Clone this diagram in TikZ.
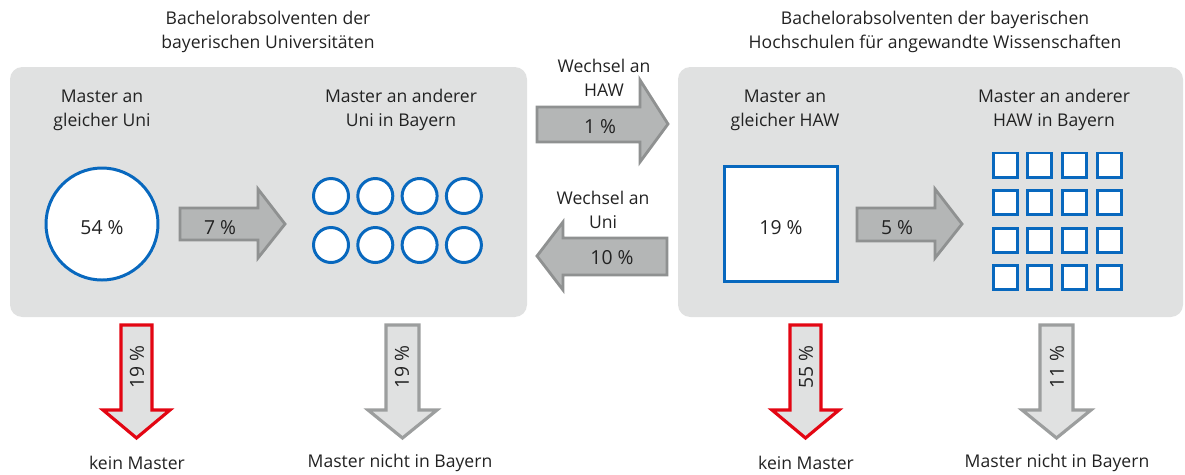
\documentclass[tikz,border=0pt]{standalone}
\usepackage{fontspec}
\setmainfont{Open Sans}
\usepackage{tikz}
\definecolor{panelgray}{HTML}{E0E1E1}
\definecolor{arrowgray}{HTML}{B4B6B6}
\definecolor{arrowedge}{HTML}{8F9191}
\definecolor{downedge}{HTML}{9C9E9E}
\definecolor{hawblue}{HTML}{0868BE}
\definecolor{kmred}{HTML}{E30613}
\definecolor{txt}{HTML}{222222}
\tikzset{
  panel/.style={fill=panelgray, draw=none, rounded corners=7pt},
  harrow/.style={fill=arrowgray, draw=arrowedge, line width=1.6pt, line join=miter},
  redarrow/.style={fill=panelgray, draw=kmred, line width=1.8pt, line join=miter},
  grayarrow/.style={fill=panelgray, draw=downedge, line width=1.8pt, line join=miter},
  lbl/.style={text=txt, font=\fontsize{10}{13.6}\selectfont, align=center, inner sep=0pt},
  pct/.style={lbl, font=\fontsize{11}{13.6}\selectfont},
  ring/.style={draw=hawblue, fill=white, line width=1.7pt},
}
\begin{document}
\begin{tikzpicture}[x=0.02cm, y=-0.02cm]
\useasboundingbox (0,0) rectangle (1185,474);
% panels
\draw [panel] (10,67) rectangle (527,317);
\draw [panel] (678,67) rectangle (1183,317);
% titles
\node [lbl] (titleuni) at (268,32) {Bachelorabsolventen der\\bayerischen Universitäten};
\node [lbl] (titlehaw) at (935,32) {Bachelorabsolventen der bayerischen\\Hochschulen für angewandte Wissenschaften};
\node [lbl] (gleichuni) at (102,110) {Master an\\gleicher Uni};
\node [lbl] (andereuni) at (401,110) {Master an anderer\\Uni in Bayern};
\node [lbl] (gleichhaw) at (785,110) {Master an\\gleicher HAW};
\node [lbl] (anderehaw) at (1054,110) {Master an anderer\\HAW in Bayern};
% Uni
\draw [ring] (102,224) circle (56);
\node [pct] (p54) at (102,228) {54 \%};
\foreach \i in {0,...,3}
  \foreach \j in {0,1}
    \draw [ring] (331+44.3*\i,196+49*\j) circle (17.5);
\draw [harrow] (180,208) -- (258,208) -- (258,189) -- (285,224) -- (258,258) -- (258,240) -- (180,240) -- cycle;
\node [pct] (p7) at (220,228) {7 \%};
% Wechsel
\node [lbl] (wechselhaw) at (604,78) {Wechsel an\\HAW};
\draw [harrow] (537,107) -- (640,107) -- (640,80) -- (668,124) -- (640,162) -- (640,142) -- (537,142) -- cycle;
\node [pct] (p1) at (600,127) {1 \%};
\node [lbl] (wechseluni) at (603,210) {Wechsel an\\Uni};
\draw [harrow] (537,256) -- (563,222) -- (563,238) -- (667,238) -- (667,275) -- (563,275) -- (563,290) -- cycle;
\node [pct] (p10) at (612,258) {10 \%};
% HAW
\draw [ring] (724,166) rectangle (837,281);
\node [pct] (p19haw) at (781,228) {19 \%};
\foreach \i in {0,...,3}
  \foreach \j in {0,...,3}
    \draw [ring] (993+34.7*\i,153+37.6*\j) rectangle ++(24,24);
\draw [harrow] (857,208) -- (935,208) -- (935,189) -- (962,224) -- (935,258) -- (935,241) -- (857,241) -- cycle;
\node [pct] (p5) at (897,228) {5 \%};
% down arrows
\draw [redarrow] (121,325) -- (152,325) -- (152,410) -- (170,410) -- (136.5,438) -- (103,410) -- (121,410) -- cycle;
\node [pct, rotate=90] (k19) at (137,367) {19 \%};
\draw [grayarrow] (386,325) -- (419,325) -- (419,410) -- (437,410) -- (402.5,438) -- (368,410) -- (386,410) -- cycle;
\node [pct, rotate=90] (n19) at (402,367) {19 \%};
\draw [redarrow] (790,325) -- (821,325) -- (821,410) -- (839,410) -- (805.5,438) -- (772,410) -- (790,410) -- cycle;
\node [pct, rotate=90] (k55) at (806,367) {55 \%};
\draw [grayarrow] (1040,325) -- (1073,325) -- (1073,410) -- (1091,410) -- (1056.5,438) -- (1022,410) -- (1040,410) -- cycle;
\node [pct, rotate=90] (n11) at (1057,367) {11 \%};
\node [lbl] (keinuni) at (137,463) {kein Master};
\node [lbl] (nichtuni) at (400,463) {Master nicht in Bayern};
\node [lbl] (keinhaw) at (806,463) {kein Master};
\node [lbl] (nichthaw) at (1057,463) {Master nicht in Bayern};
\end{tikzpicture}
\end{document}
